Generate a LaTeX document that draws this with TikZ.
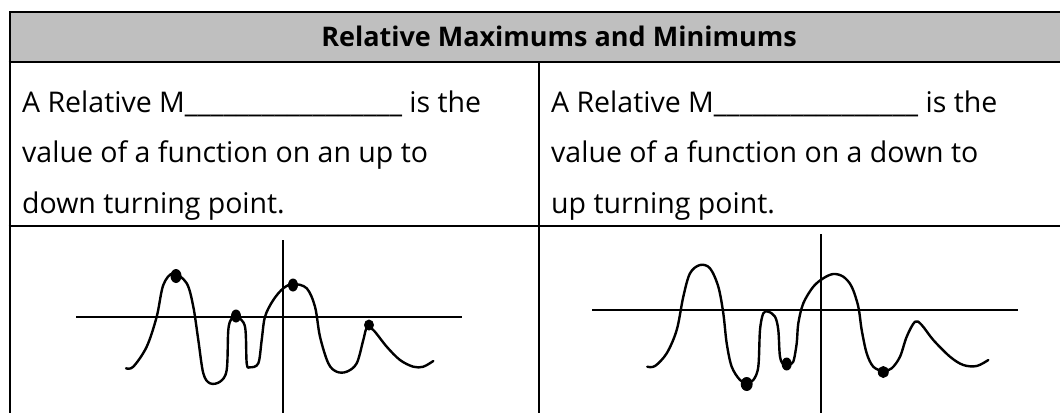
\documentclass[tikz,border=0pt]{standalone}
\usepackage{fontspec}
\setmainfont{Open Sans}
\definecolor{headgray}{HTML}{BFBFBF}
\tikzset{
  rule/.style={line width=2pt, black},
  curve/.style={line width=2.4pt, black, line cap=round, line join=round},
  axisline/.style={line width=2pt, black},
  bodytext/.style={anchor=base west, inner sep=0pt, font=\fontsize{28.5}{28.5}\selectfont},
  headtext/.style={anchor=base, inner sep=0pt, font=\fontsize{27}{27}\selectfont\bfseries},
  dot/.style={fill=black}
}
\begin{document}
\begin{tikzpicture}[x=1pt,y=-1pt]
\useasboundingbox (0,0) rectangle (1060,413);
% table
\fill[headgray] (9.5,12) rectangle (1060,62);
\draw[rule] (1060,12) -- (9.5,12) -- (9.5,413);
\draw[rule] (8.5,62) -- (1060,62);
\draw[rule] (8.5,226) -- (1060,226);
\draw[rule] (539,62) -- (539,413);
% header
\node[headtext] (head) at (559,46) {Relative Maximums and Minimums};
% left text
\node[bodytext] (l1) at (22,112) {A Relative M\_\_\_\_\_\_\_\_\_\_\_\_\_\_\_\_\_ is the};
\node[bodytext] (l2) at (22,162) {value of a function on an up to};
\node[bodytext] (l3) at (22,213) {down turning point.};
% right text
\node[bodytext] (r1) at (551,112) {A Relative M\_\_\_\_\_\_\_\_\_\_\_\_\_\_\_\_ is the};
\node[bodytext] (r2) at (551,162) {value of a function on a down to};
\node[bodytext] (r3) at (551,213) {up turning point.};
% left graph
\coordinate (lxa) at (76,317);
\coordinate (lxb) at (462,317);
\coordinate (lya) at (283,240);
\coordinate (lyb) at (283,413);
\draw[axisline] (lxa) -- (lxb);
\draw[axisline] (lya) -- (lyb);
\draw[curve] plot[smooth, tension=0.55] coordinates {
(126,368.3) (133.3,366.7) (146.7,346.7) (156.7,316.7) (163.3,285) (173.3,273.3)
(186.7,283.3) (193.3,306.7) (198.3,340) (203.3,373.3) (210,383.3)
(220,381.7) (226.7,370) (228.3,330) (231.7,318.3) (236.7,316.7)
(245,326.7) (246.7,363.3) (250,367.3) (258.3,363.3) (261.7,340) (265,316.7)
(273.3,300) (283.3,288.3) (293.3,284) (306.7,288.3) (315,306.7) (320,336.7)
(328.3,363.3) (336.7,371.7) (346.7,371.7) (356.7,363.3) (363.3,340) (366.7,328.3)
(373.3,330) (386.7,346.7) (400,360) (413.3,366.7) (423.3,366.7) (433.3,361)};
\fill[dot] (176,276) ellipse [x radius=5.5pt, y radius=7pt];
\fill[dot] (236,316) ellipse [x radius=5pt, y radius=6.5pt];
\fill[dot] (293,285) ellipse [x radius=5pt, y radius=6.5pt];
\fill[dot] (369,325) ellipse [x radius=5pt, y radius=5.5pt];
% right graph
\coordinate (rxa) at (592,310);
\coordinate (rxb) at (1018,310);
\coordinate (rya) at (821,234);
\coordinate (ryb) at (821,413);
\draw[axisline] (rxa) -- (rxb);
\draw[axisline] (rya) -- (ryb);
\draw[curve] plot[smooth, tension=0.55] coordinates {
(647.3,366.7) (655,366) (666.7,353.3) (676.7,330) (683.3,296.7) (690,273.3) (700,265)
(710,268.3) (718.3,286.7) (723.3,313.3) (726.7,343.3) (731.7,366.7) (740,380)
(746.7,383) (753.3,380) (758.3,366.7) (760,330) (763.3,313.3) (768.3,311.7)
(775,316.7) (778.3,330) (780,356.7) (784,365) (789,364) (793.3,361.7) (796.7,343.3)
(798.3,323.3) (803.3,303.3) (813.3,286.7) (823.3,278.3) (833.3,274) (843.3,276.7)
(851.7,286.7) (858.3,306.7) (861.7,330) (866.7,353.3) (873.3,366.7) (883.3,371)
(891.7,368.3) (900,356.7) (906.7,336.7) (915,321.7) (921.7,325) (933.3,340)
(950,356.7) (963.3,365) (976.7,366) (988.3,360)};
\fill[dot] (746.7,384) ellipse [x radius=6pt, y radius=7pt];
\fill[dot] (786.7,364) ellipse [x radius=5pt, y radius=6.5pt];
\fill[dot] (883.3,372) ellipse [x radius=5.5pt, y radius=6pt];
\end{tikzpicture}
\end{document}
